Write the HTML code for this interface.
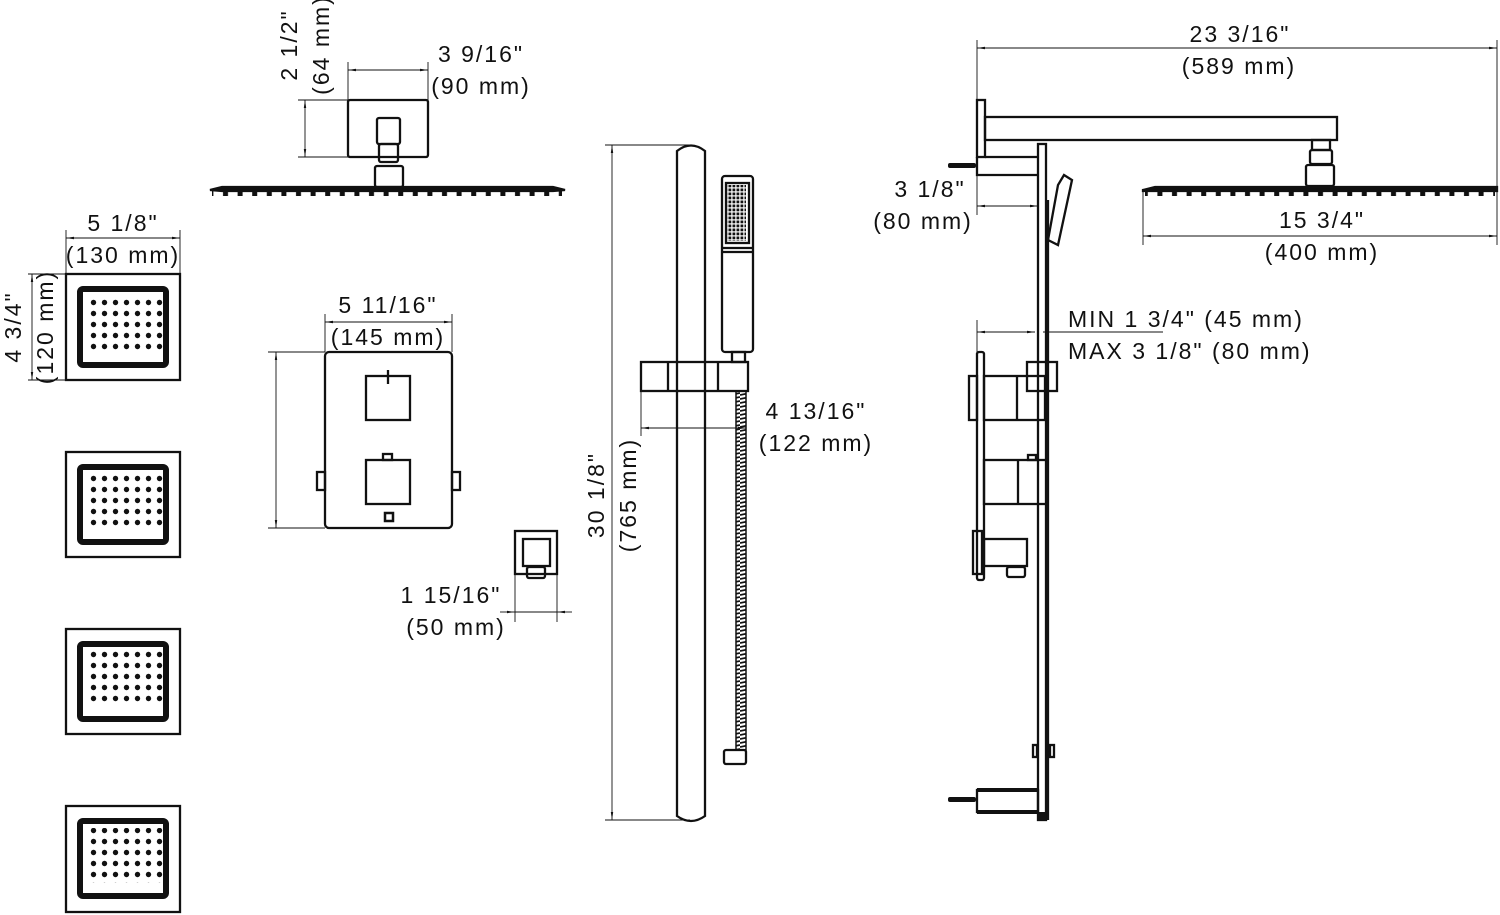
<!DOCTYPE html>
<html><head><meta charset="utf-8"><style>
html,body{margin:0;padding:0;background:#fff}
svg{display:block}
text{font-family:"Liberation Sans",sans-serif;font-size:23px;fill:#111;letter-spacing:2px}
</style></head><body>
<svg width="1500" height="915" viewBox="0 0 1500 915" xmlns="http://www.w3.org/2000/svg">
<defs>
<pattern id="dots" x="0" y="0" width="11" height="11" patternUnits="userSpaceOnUse"><circle cx="5.5" cy="5.5" r="2.7" fill="#111"/></pattern>
<pattern id="teeth" x="0" y="0" width="14.6" height="10" patternUnits="userSpaceOnUse"><rect x="4" y="0" width="5" height="6" fill="#111"/></pattern>
<pattern id="grid" x="0" y="0" width="4" height="4" patternUnits="userSpaceOnUse"><rect x="0.5" y="0.5" width="2.8" height="2.8" fill="#111"/></pattern>
<pattern id="hose" x="0" y="0" width="10" height="4" patternUnits="userSpaceOnUse"><line x1="0" y1="3" x2="10" y2="1" stroke="#111" stroke-width="1.8"/></pattern>
<marker id="a" viewBox="0 0 10 10" refX="10" refY="5" markerWidth="9" markerHeight="9" orient="auto-start-reverse"><path d="M0,3.5 L10,5 L0,6.5z" fill="#111"/></marker>
</defs>
<g fill="none" stroke="#111" stroke-width="0.9">
<line x1="298" y1="100" x2="348" y2="100"/><line x1="298" y1="157" x2="348" y2="157"/>
<line x1="305" y1="100" x2="305" y2="157" marker-start="url(#a)" marker-end="url(#a)"/>
<line x1="348" y1="62" x2="348" y2="100"/><line x1="428" y1="62" x2="428" y2="100"/>
<line x1="348" y1="70" x2="428" y2="70" marker-start="url(#a)" marker-end="url(#a)"/>
<line x1="66" y1="230" x2="66" y2="274"/><line x1="180" y1="230" x2="180" y2="274"/>
<line x1="66" y1="238" x2="180" y2="238" marker-start="url(#a)" marker-end="url(#a)"/>
<line x1="28" y1="274" x2="66" y2="274"/><line x1="28" y1="380" x2="66" y2="380"/>
<line x1="32" y1="274" x2="32" y2="380" marker-start="url(#a)" marker-end="url(#a)"/>
<line x1="325" y1="314" x2="325" y2="352"/><line x1="452" y1="314" x2="452" y2="352"/>
<line x1="325" y1="322" x2="452" y2="322" marker-start="url(#a)" marker-end="url(#a)"/>
<line x1="268" y1="352" x2="325" y2="352"/><line x1="268" y1="528" x2="325" y2="528"/>
<line x1="276" y1="352" x2="276" y2="528" marker-start="url(#a)" marker-end="url(#a)"/>
<line x1="515" y1="574" x2="515" y2="622"/><line x1="557" y1="574" x2="557" y2="622"/>
<line x1="500" y1="612" x2="515" y2="612" marker-end="url(#a)"/><line x1="572" y1="612" x2="557" y2="612" marker-end="url(#a)"/>
<line x1="515" y1="612" x2="557" y2="612"/>
<line x1="605" y1="145" x2="690" y2="145"/><line x1="605" y1="820" x2="690" y2="820"/>
<line x1="612" y1="145" x2="612" y2="820" marker-start="url(#a)" marker-end="url(#a)"/>
<line x1="641" y1="391" x2="641" y2="436"/><line x1="746" y1="420" x2="746" y2="436"/>
<line x1="641" y1="428" x2="746" y2="428" marker-start="url(#a)" marker-end="url(#a)"/>
<line x1="977" y1="40" x2="977" y2="100"/><line x1="1497" y1="40" x2="1497" y2="245"/>
<line x1="977" y1="48" x2="1497" y2="48" marker-start="url(#a)" marker-end="url(#a)"/>
<line x1="977" y1="175" x2="977" y2="215"/>
<line x1="977" y1="206" x2="1038" y2="206" marker-start="url(#a)" marker-end="url(#a)"/>
<line x1="1143" y1="192" x2="1143" y2="245"/>
<line x1="1143" y1="236" x2="1497" y2="236" marker-start="url(#a)" marker-end="url(#a)"/>
<line x1="977" y1="320" x2="977" y2="352"/>
<line x1="977" y1="332" x2="1035" y2="332" marker-start="url(#a)" marker-end="url(#a)"/>
<line x1="1043" y1="332" x2="1163" y2="332"/>
</g>
<g fill="none" stroke="#111" stroke-width="2.3">
<rect x="348" y="100" width="80" height="57" rx="2"/>
<rect x="377" y="118" width="23" height="26" rx="2"/>
<rect x="379" y="144" width="19" height="18" rx="2"/>
<rect x="375" y="166" width="28" height="21" rx="2"/>
<path d="M210,190 L222,187 L553,187 L565,190 L553,191 L222,191z" fill="#111"/>
<rect x="66" y="274" width="114" height="106"/>
<rect x="66" y="452" width="114" height="105"/>
<rect x="66" y="629" width="114" height="105"/>
<rect x="66" y="806" width="114" height="106"/>
</g>
<g fill="none" stroke="#111" stroke-width="6">
<rect x="80" y="289" width="86" height="76" rx="3"/>
<rect x="80" y="467" width="86" height="75" rx="3"/>
<rect x="80" y="644" width="86" height="75" rx="3"/>
<rect x="80" y="821" width="86" height="75" rx="3"/>
</g>
<rect x="87" y="296" width="77" height="55" fill="url(#dots)"/>
<rect x="87" y="474" width="77" height="55" fill="url(#dots)"/>
<rect x="87" y="651" width="77" height="55" fill="url(#dots)"/>
<rect x="87" y="828" width="77" height="55" fill="url(#dots)"/>
<rect x="212" y="191" width="350" height="8" fill="url(#teeth)"/>
<rect x="1145" y="191" width="350" height="8" fill="url(#teeth)"/>
<g fill="none" stroke="#111" stroke-width="2.3">
<rect x="325" y="352" width="127" height="176" rx="4"/>
<rect x="366" y="376" width="44" height="44"/>
<rect x="366" y="460" width="44" height="44"/>
<rect x="383" y="454" width="9" height="6"/>
<rect x="317" y="472" width="8" height="18"/><rect x="452" y="472" width="8" height="18"/>
<rect x="385" y="513" width="8" height="8" stroke-width="2.5"/>
<line x1="388" y1="370" x2="388" y2="384"/>
<rect x="515" y="531" width="42" height="43"/>
<rect x="523" y="539" width="27" height="27"/>
<rect x="527" y="567" width="18" height="11" rx="2"/>
<path d="M677,816 L677,151 Q691,140 705,151 L705,816 Q691,826 677,816z"/>
<rect x="641" y="362" width="107" height="29"/>
<line x1="668" y1="362" x2="668" y2="391"/><line x1="718" y1="362" x2="718" y2="391"/>
<rect x="722" y="176" width="31" height="176" rx="3"/>
<line x1="722" y1="248" x2="753" y2="248"/><line x1="722" y1="252" x2="753" y2="252"/>
<rect x="726" y="183" width="23" height="60"/>
<rect x="732" y="352" width="13" height="10"/>
<rect x="724" y="750" width="22" height="14" rx="2"/>
<rect x="977" y="100" width="8" height="57"/>
<rect x="985" y="117" width="352" height="23"/>
<path d="M985,157 L1038,157 M977,157 L977,175 L1038,175"/>
<rect x="1038" y="144" width="8" height="676"/>
<line x1="1048" y1="200" x2="1048" y2="820"/>
<path d="M1048,240 L1058,185 L1064,175 L1072,180 L1058,245z"/>
<rect x="1312" y="140" width="18" height="10"/>
<rect x="1310" y="150" width="22" height="14" rx="2"/>
<rect x="1306" y="165" width="28" height="21" rx="2"/>
<path d="M1143,190 L1155,187 L1497,187 L1497,191 L1143,191z" fill="#111"/>
<rect x="977" y="352" width="7" height="228" rx="2"/>
<rect x="969" y="376" width="8" height="44"/>
<rect x="984" y="376" width="61" height="44"/><line x1="1017" y1="376" x2="1017" y2="420"/>
<rect x="1027" y="362" width="30" height="29"/>
<rect x="984" y="460" width="63" height="44"/><line x1="1018" y1="460" x2="1018" y2="504"/>
<rect x="1028" y="455" width="8" height="5"/>
<rect x="973" y="531" width="9" height="43"/>
<rect x="984" y="539" width="43" height="27"/>
<rect x="1007" y="567" width="18" height="10" rx="2"/>
<rect x="1033" y="745" width="4" height="12"/><rect x="1050" y="745" width="4" height="12"/>
<rect x="977" y="790" width="61" height="22"/>
</g>
<rect x="736" y="391" width="10" height="359" fill="url(#hose)" stroke="#111" stroke-width="1.5"/>
<rect x="726" y="185" width="20" height="56" fill="url(#grid)"/>
<g fill="#111">
<rect x="948" y="163" width="28" height="5" rx="2"/>
<rect x="948" y="797" width="28" height="5" rx="2"/>
<rect x="977" y="788" width="61" height="4"/><rect x="977" y="810" width="61" height="4"/>
<rect x="1038" y="812" width="8" height="8"/>
</g>
<text x="481" y="62" text-anchor="middle">3 9/16"</text>
<text x="481" y="94" text-anchor="middle">(90 mm)</text>
<text transform="translate(297,45) rotate(-90)" text-anchor="middle">2 1/2"</text>
<text transform="translate(329,45) rotate(-90)" text-anchor="middle">(64 mm)</text>
<text x="123" y="231" text-anchor="middle">5 1/8"</text>
<text x="123" y="263" text-anchor="middle">(130 mm)</text>
<text transform="translate(21,327) rotate(-90)" text-anchor="middle">4 3/4"</text>
<text transform="translate(53,327) rotate(-90)" text-anchor="middle">(120 mm)</text>
<text x="388" y="313" text-anchor="middle">5 11/16"</text>
<text x="388" y="345" text-anchor="middle">(145 mm)</text>
<text x="451" y="603" text-anchor="middle">1 15/16"</text>
<text x="456" y="635" text-anchor="middle">(50 mm)</text>
<text transform="translate(604,495) rotate(-90)" text-anchor="middle">30 1/8"</text>
<text transform="translate(636,495) rotate(-90)" text-anchor="middle">(765 mm)</text>
<text x="816" y="419" text-anchor="middle">4 13/16"</text>
<text x="816" y="451" text-anchor="middle">(122 mm)</text>
<text x="1240" y="42" text-anchor="middle">23 3/16"</text>
<text x="1239" y="74" text-anchor="middle">(589 mm)</text>
<text x="930" y="197" text-anchor="middle">3 1/8"</text>
<text x="923" y="229" text-anchor="middle">(80 mm)</text>
<text x="1322" y="228" text-anchor="middle">15 3/4"</text>
<text x="1322" y="260" text-anchor="middle">(400 mm)</text>
<text x="1068" y="327">MIN 1 3/4" (45 mm)</text>
<text x="1068" y="359">MAX 3 1/8" (80 mm)</text>
</svg>
</body></html>
